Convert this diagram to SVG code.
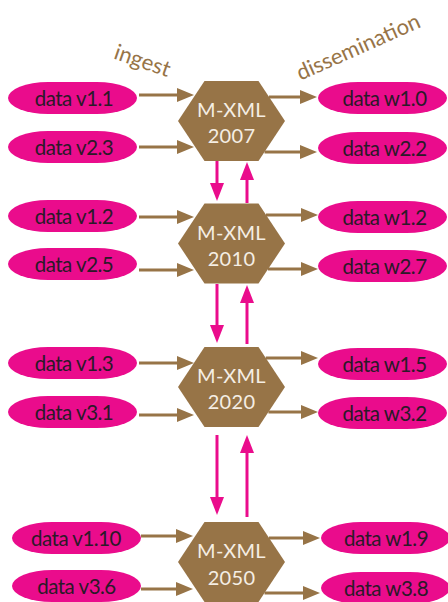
<svg xmlns="http://www.w3.org/2000/svg" width="448" height="602" viewBox="0 0 448 602">
<style>
.pill{fill:#ea0c8c}
.pt{font-family:Lato,"Open Sans",sans-serif;font-size:20.5px;letter-spacing:-0.5px;fill:#2a1a28;text-anchor:middle}
.hex{fill:#977447}
.ht{font-family:Lato,"Open Sans",sans-serif;font-size:20px;letter-spacing:0.3px;fill:#f5eee4;text-anchor:middle}
.br{stroke:#977447;stroke-width:3;fill:none}
.mg{stroke:#ea0c8c;stroke-width:3;fill:none}
.lab{font-family:Lato,"Open Sans",sans-serif;font-size:22px;fill:#977447;text-anchor:middle}
</style>
<defs>
<marker id="ab" markerUnits="userSpaceOnUse" viewBox="0 0 17 14" markerWidth="17" markerHeight="14" refX="7" refY="7" orient="auto"><path d="M0,0 L17,7 L0,14 z" fill="#977447"/></marker>
<marker id="am" markerUnits="userSpaceOnUse" viewBox="0 0 18 14" markerWidth="18" markerHeight="14" refX="8" refY="7" orient="auto"><path d="M0,0 L18,7 L0,14 z" fill="#ea0c8c"/></marker>
</defs>

<g id="labels">
<text class="lab" transform="translate(142,62) rotate(19)" y="6">ingest</text>
<text class="lab" transform="translate(358,46.5) rotate(-24)" y="8">dissemination</text>
</g>

<g id="connectors">
<line class="br" x1="139" y1="95" x2="184" y2="95" marker-end="url(#ab)"/>
<line class="br" x1="139" y1="147" x2="184" y2="147" marker-end="url(#ab)"/>
<line class="br" x1="269" y1="97" x2="307" y2="97" marker-end="url(#ab)"/>
<line class="br" x1="264.5" y1="152" x2="307" y2="152" marker-end="url(#ab)"/>
<line class="br" x1="139" y1="217" x2="184" y2="217" marker-end="url(#ab)"/>
<line class="br" x1="139" y1="270" x2="184" y2="270" marker-end="url(#ab)"/>
<line class="br" x1="266" y1="215" x2="308" y2="215" marker-end="url(#ab)"/>
<line class="br" x1="268" y1="269" x2="308" y2="269" marker-end="url(#ab)"/>
<line class="br" x1="139" y1="363" x2="184" y2="363" marker-end="url(#ab)"/>
<line class="br" x1="139" y1="415" x2="184" y2="415" marker-end="url(#ab)"/>
<line class="br" x1="265.8" y1="358" x2="308" y2="358" marker-end="url(#ab)"/>
<line class="br" x1="268.4" y1="412" x2="308" y2="412" marker-end="url(#ab)"/>
<line class="br" x1="141" y1="536" x2="183" y2="536" marker-end="url(#ab)"/>
<line class="br" x1="141" y1="589" x2="183" y2="589" marker-end="url(#ab)"/>
<line class="br" x1="269" y1="538" x2="310" y2="538" marker-end="url(#ab)"/>
<line class="br" x1="264.5" y1="593" x2="310" y2="593" marker-end="url(#ab)"/>
<line class="mg" x1="217" y1="161" x2="217" y2="191" marker-end="url(#am)"/>
<line class="mg" x1="247" y1="203" x2="247" y2="172" marker-end="url(#am)"/>
<line class="mg" x1="217" y1="284" x2="217" y2="333" marker-end="url(#am)"/>
<line class="mg" x1="247" y1="344" x2="247" y2="295" marker-end="url(#am)"/>
<line class="mg" x1="217" y1="435" x2="217" y2="505" marker-end="url(#am)"/>
<line class="mg" x1="247" y1="517" x2="247" y2="445" marker-end="url(#am)"/>
</g>

<g id="v1_1"><rect class="pill" x="8" y="82" width="129" height="32" rx="40" ry="16"/><text class="pt" x="74" y="105.5">data v1.1</text></g>
<g id="v2_3"><rect class="pill" x="8" y="131" width="129" height="32" rx="40" ry="16"/><text class="pt" x="74" y="154.5">data v2.3</text></g>
<g id="v1_2"><rect class="pill" x="8" y="200" width="129" height="32" rx="40" ry="16"/><text class="pt" x="74" y="223.5">data v1.2</text></g>
<g id="v2_5"><rect class="pill" x="8" y="248" width="129" height="32" rx="40" ry="16"/><text class="pt" x="74" y="271.5">data v2.5</text></g>
<g id="v1_3"><rect class="pill" x="8" y="347" width="129" height="32" rx="40" ry="16"/><text class="pt" x="74" y="370.5">data v1.3</text></g>
<g id="v3_1"><rect class="pill" x="8" y="396" width="129" height="32" rx="40" ry="16"/><text class="pt" x="74" y="419.5">data v3.1</text></g>
<g id="v1_10"><rect class="pill" x="12" y="522" width="129" height="32" rx="40" ry="16"/><text class="pt" x="76" y="545.5">data v1.10</text></g>
<g id="v3_6"><rect class="pill" x="12" y="570" width="129" height="32" rx="40" ry="16"/><text class="pt" x="76.5" y="593.5">data v3.6</text></g>

<g id="w1_0"><rect class="pill" x="318" y="82" width="129" height="32" rx="40" ry="16"/><text class="pt" x="384.5" y="105.5">data w1.0</text></g>
<g id="w2_2"><rect class="pill" x="318" y="132" width="129" height="32" rx="40" ry="16"/><text class="pt" x="384.5" y="155.5">data w2.2</text></g>
<g id="w1_2"><rect class="pill" x="318" y="201" width="129" height="32" rx="40" ry="16"/><text class="pt" x="384.5" y="224.5">data w1.2</text></g>
<g id="w2_7"><rect class="pill" x="318" y="250" width="129" height="32" rx="40" ry="16"/><text class="pt" x="384.5" y="273.5">data w2.7</text></g>
<g id="w1_5"><rect class="pill" x="318" y="348" width="129" height="32" rx="40" ry="16"/><text class="pt" x="384.5" y="371.5">data w1.5</text></g>
<g id="w3_2"><rect class="pill" x="318" y="397" width="129" height="32" rx="40" ry="16"/><text class="pt" x="384.5" y="420.5">data w3.2</text></g>
<g id="w1_9"><rect class="pill" x="321" y="522" width="129" height="32" rx="40" ry="16"/><text class="pt" x="386" y="545.5">data w1.9</text></g>
<g id="w3_8"><rect class="pill" x="321" y="572" width="129" height="32" rx="40" ry="16"/><text class="pt" x="386" y="595.5">data w3.8</text></g>

<g id="mxml2007"><polygon class="hex" points="204.5,81 258.5,81 285,121 258.5,161 204.5,161 178,121"/><text class="ht" x="231.5" y="117">M-XML</text><text class="ht" x="231.5" y="143">2007</text></g>
<g id="mxml2010"><polygon class="hex" points="204.5,203.5 258.5,203.5 285,243.5 258.5,283.5 204.5,283.5 178,243.5"/><text class="ht" x="231.5" y="239.5">M-XML</text><text class="ht" x="231.5" y="265.5">2010</text></g>
<g id="mxml2020"><polygon class="hex" points="204.5,347 258.5,347 285,387 258.5,427 204.5,427 178,387"/><text class="ht" x="231.5" y="383">M-XML</text><text class="ht" x="231.5" y="409">2020</text></g>
<g id="mxml2050"><polygon class="hex" points="204.5,522 258.5,522 285,562 258.5,602 204.5,602 178,562"/><text class="ht" x="231.5" y="558">M-XML</text><text class="ht" x="231.5" y="584.5">2050</text></g>
</svg>
